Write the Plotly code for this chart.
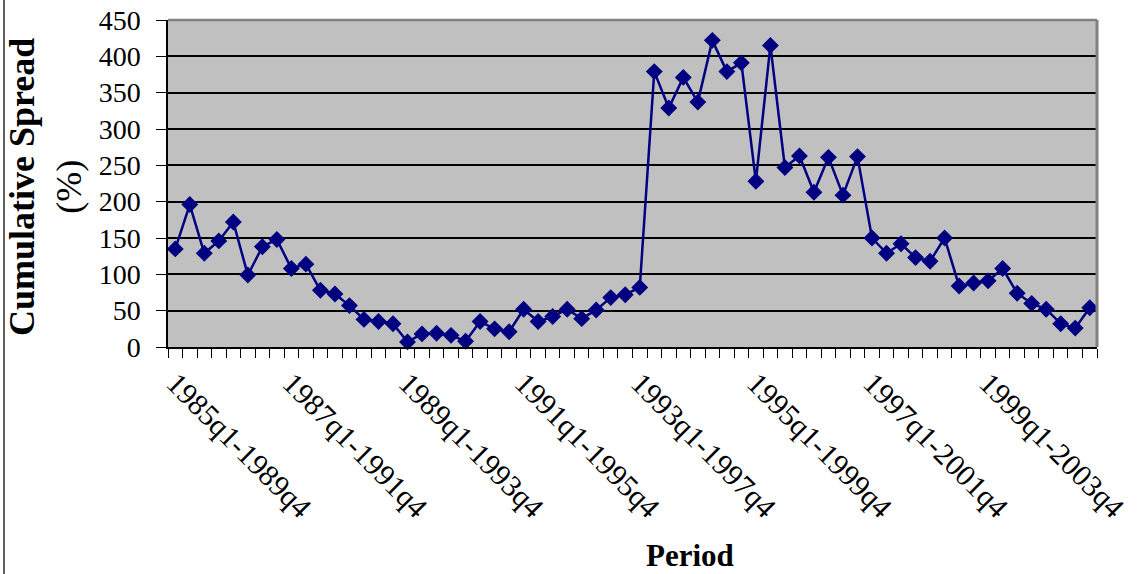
import plotly.graph_objects as go

# Rolling 5-year windows, start quarters 1985q1 .. 2000q4
start_years = list(range(1985, 2001))
quarters = [1, 2, 3, 4]

periods = []
for y in start_years:
    for q in quarters:
        ey, eq = (y + 4, 4) if q == 1 else (y + 5, q - 1)
        periods.append(f"{y}q{q}-{ey}q{eq}")

spread = [135, 196, 129, 146, 172, 99, 138, 148, 108, 114,
          78, 73, 57, 38, 35, 32, 7, 18, 19, 16,
          8, 35, 25, 21, 52, 35, 42, 52, 39, 51,
          68, 72, 82, 379, 329, 371, 337, 422, 379, 391,
          228, 415, 247, 263, 213, 261, 209, 262, 150, 129,
          142, 123, 118, 150, 84, 88, 91, 108, 74, 60,
          52, 32, 26, 54]

tick_text = [p if i % 8 == 0 else "" for i, p in enumerate(periods)]
y_ticks = [0, 50, 100, 150, 200, 250, 300, 350, 400, 450]

serif = "Liberation Serif, Times New Roman, serif"

fig = go.Figure()
fig.add_trace(go.Scatter(
    x=periods, y=spread, mode="lines+markers",
    line=dict(color="#000080", width=2.5),
    marker=dict(symbol="diamond", size=13, color="#000080"),
    showlegend=False, cliponaxis=False,
))

fig.update_layout(
    width=1137, height=574,
    margin=dict(l=168, r=40, t=20, b=227, autoexpand=False),
    paper_bgcolor="white", plot_bgcolor="#C0C0C0",
    font=dict(family=serif, color="black"),
    xaxis=dict(
        type="category", categoryorder="array", categoryarray=periods,
        tickmode="array", tickvals=periods, ticktext=tick_text,
        tickson="boundaries", ticks="outside", ticklen=9, tickcolor="black",
        tickangle=45, tickfont=dict(size=30, family=serif), automargin=False,
        ticklabelstandoff=5,
        showline=True, linecolor="black", linewidth=1.5,
        showgrid=False, zeroline=False, range=[-0.5, len(periods) - 0.5],
    ),
    yaxis=dict(
        range=[0, 450], tickvals=y_ticks, ticks="outside", ticklen=10,
        tickcolor="black", tickfont=dict(size=28, family=serif),
        ticklabelstandoff=10, automargin=False,
        showline=True, linecolor="black", linewidth=1.5,
        showgrid=True, gridcolor="black", gridwidth=1.6, zeroline=False,
    ),
    annotations=[
        dict(text="<b>Cumulative Spread</b><br>(%)", xref="paper", yref="paper",
             x=(45 - 168) / 929, y=(347 - 187) / 327, xanchor="center", yanchor="middle",
             textangle=-90, showarrow=False, font=dict(size=36, family=serif)),
        dict(text="<b>Period</b>", xref="paper", yref="paper",
             x=(690 - 168) / 929, y=(347 - 555) / 327, xanchor="center", yanchor="middle",
             showarrow=False, font=dict(size=31, family=serif)),
    ],
    shapes=[
        dict(type="line", xref="paper", yref="paper", x0=0, x1=1, y0=1, y1=1,
             line=dict(color="#808080", width=2.5)),
        dict(type="line", xref="paper", yref="paper", x0=1, x1=1, y0=0, y1=1,
             line=dict(color="#808080", width=3)),
        dict(type="line", xref="paper", yref="paper",
             x0=(4 - 168) / 929, x1=(4 - 168) / 929, y0=(347 - 574) / 327, y1=(347 - 0) / 327,
             line=dict(color="#606060", width=2)),
    ],
)

fig.write_html("out.html", config={"displayModeBar": False},
               post_script="document.body.style.margin='0';document.body.style.overflow='hidden';")
